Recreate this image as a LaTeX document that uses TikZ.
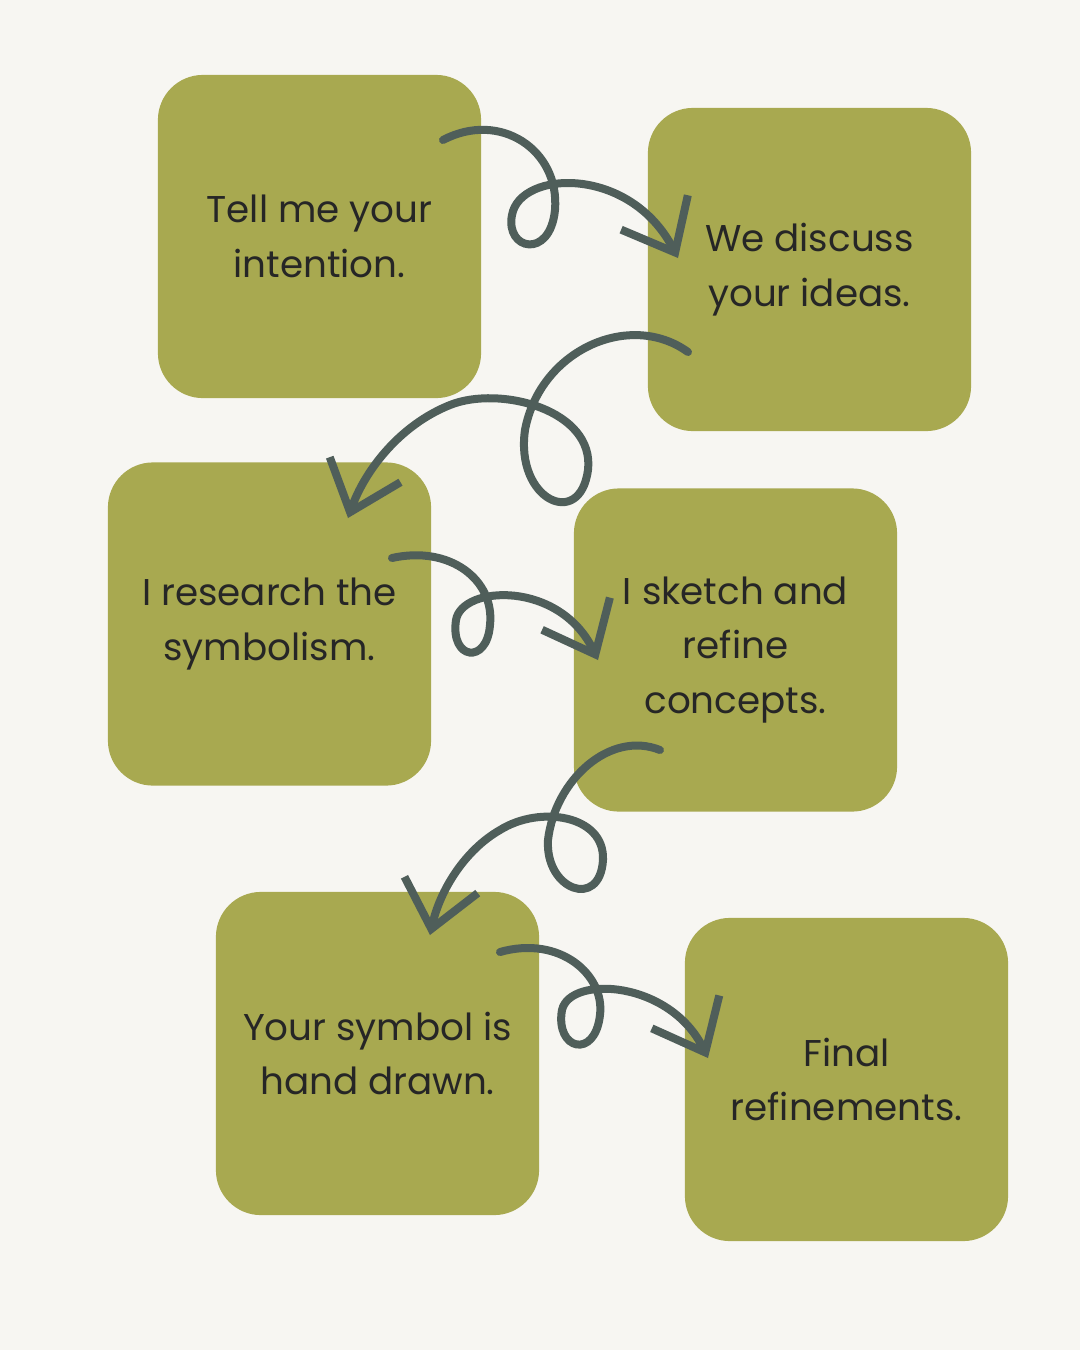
\documentclass[tikz,border=0pt]{standalone}
\usepackage{fontspec}
\setmainfont{Poppins}
\usetikzlibrary{arrows.meta}
\definecolor{olive}{HTML}{A8A950}
\definecolor{paper}{HTML}{F7F6F2}
\definecolor{ink}{HTML}{4F5E5A}
\begin{document}
\begin{tikzpicture}[x=0.01cm, y=-0.01cm,
    stage/.style={fill=olive, rounded corners=0.45cm, minimum width=3.23cm, minimum height=3.23cm,
                 align=center, font=\fontsize{10.6}{15.6}\selectfont, text=black!85},
    curl/.style={draw=ink, line width=0.08cm, line cap=round,
                 -{Straight Barb[length=0.45cm, width=0.75cm, line width=0.08cm]}}]
        \fill [paper] (0,0) rectangle (1080,1350);                   % background
        \node [stage] (intent)  at (319.5,236.5)  {Tell me your\\intention.};
        \node [stage] (discuss) at (809.5,269.5)  {We discuss\\your ideas.};
        \node [stage] (research) at (269.5,624)   {I research the\\symbolism.};
        \node [stage] (sketch)  at (735.5,650)    {I sketch and\\refine\\concepts.};
        \node [stage] (drawn)   at (377.5,1053.5) {Your symbol is\\hand drawn.};
        \node [stage] (final)   at (846.5,1079.5) {Final\\refinements.};

        % curls between the stages
        \coordinate (a1) at (443,140);  \coordinate (b1) at (678,258);
        \coordinate (a2) at (688,352);  \coordinate (b2) at (348,518);
        \coordinate (a3) at (392,558);  \coordinate (b3) at (598,660);
        \coordinate (a4) at (660,750);  \coordinate (b4) at (430,935);
        \coordinate (a5) at (500,952);  \coordinate (b5) at (708,1058);

        \draw [curl] (a1) .. controls (500,110) and (560,150) .. (555,210)
                          .. controls (550,260) and (505,250) .. (512,215)
                          .. controls (520,170) and (630,165) .. (b1);
        \draw [curl] (a2) .. controls (630,310) and (540,350) .. (525,430)
                          .. controls (515,500) and (580,530) .. (588,470)
                          .. controls (595,410) and (500,385) .. (450,405)
                          .. controls (400,425) and (365,470) .. (b2);
        \draw [curl] (a3) .. controls (450,545) and (495,580) .. (490,625)
                          .. controls (487,665) and (450,660) .. (456,620)
                          .. controls (462,585) and (560,580) .. (b3);
        \draw [curl] (a4) .. controls (610,730) and (555,780) .. (548,840)
                          .. controls (545,890) and (600,910) .. (603,860)
                          .. controls (605,815) and (540,805) .. (500,830)
                          .. controls (465,850) and (440,890) .. (b4);
        \draw [curl] (a5) .. controls (560,935) and (605,975) .. (600,1015)
                          .. controls (595,1060) and (555,1050) .. (562,1010)
                          .. controls (570,975) and (670,980) .. (b5);
        \useasboundingbox (0,0) rectangle (1080,1350);
\end{tikzpicture}
\end{document}
